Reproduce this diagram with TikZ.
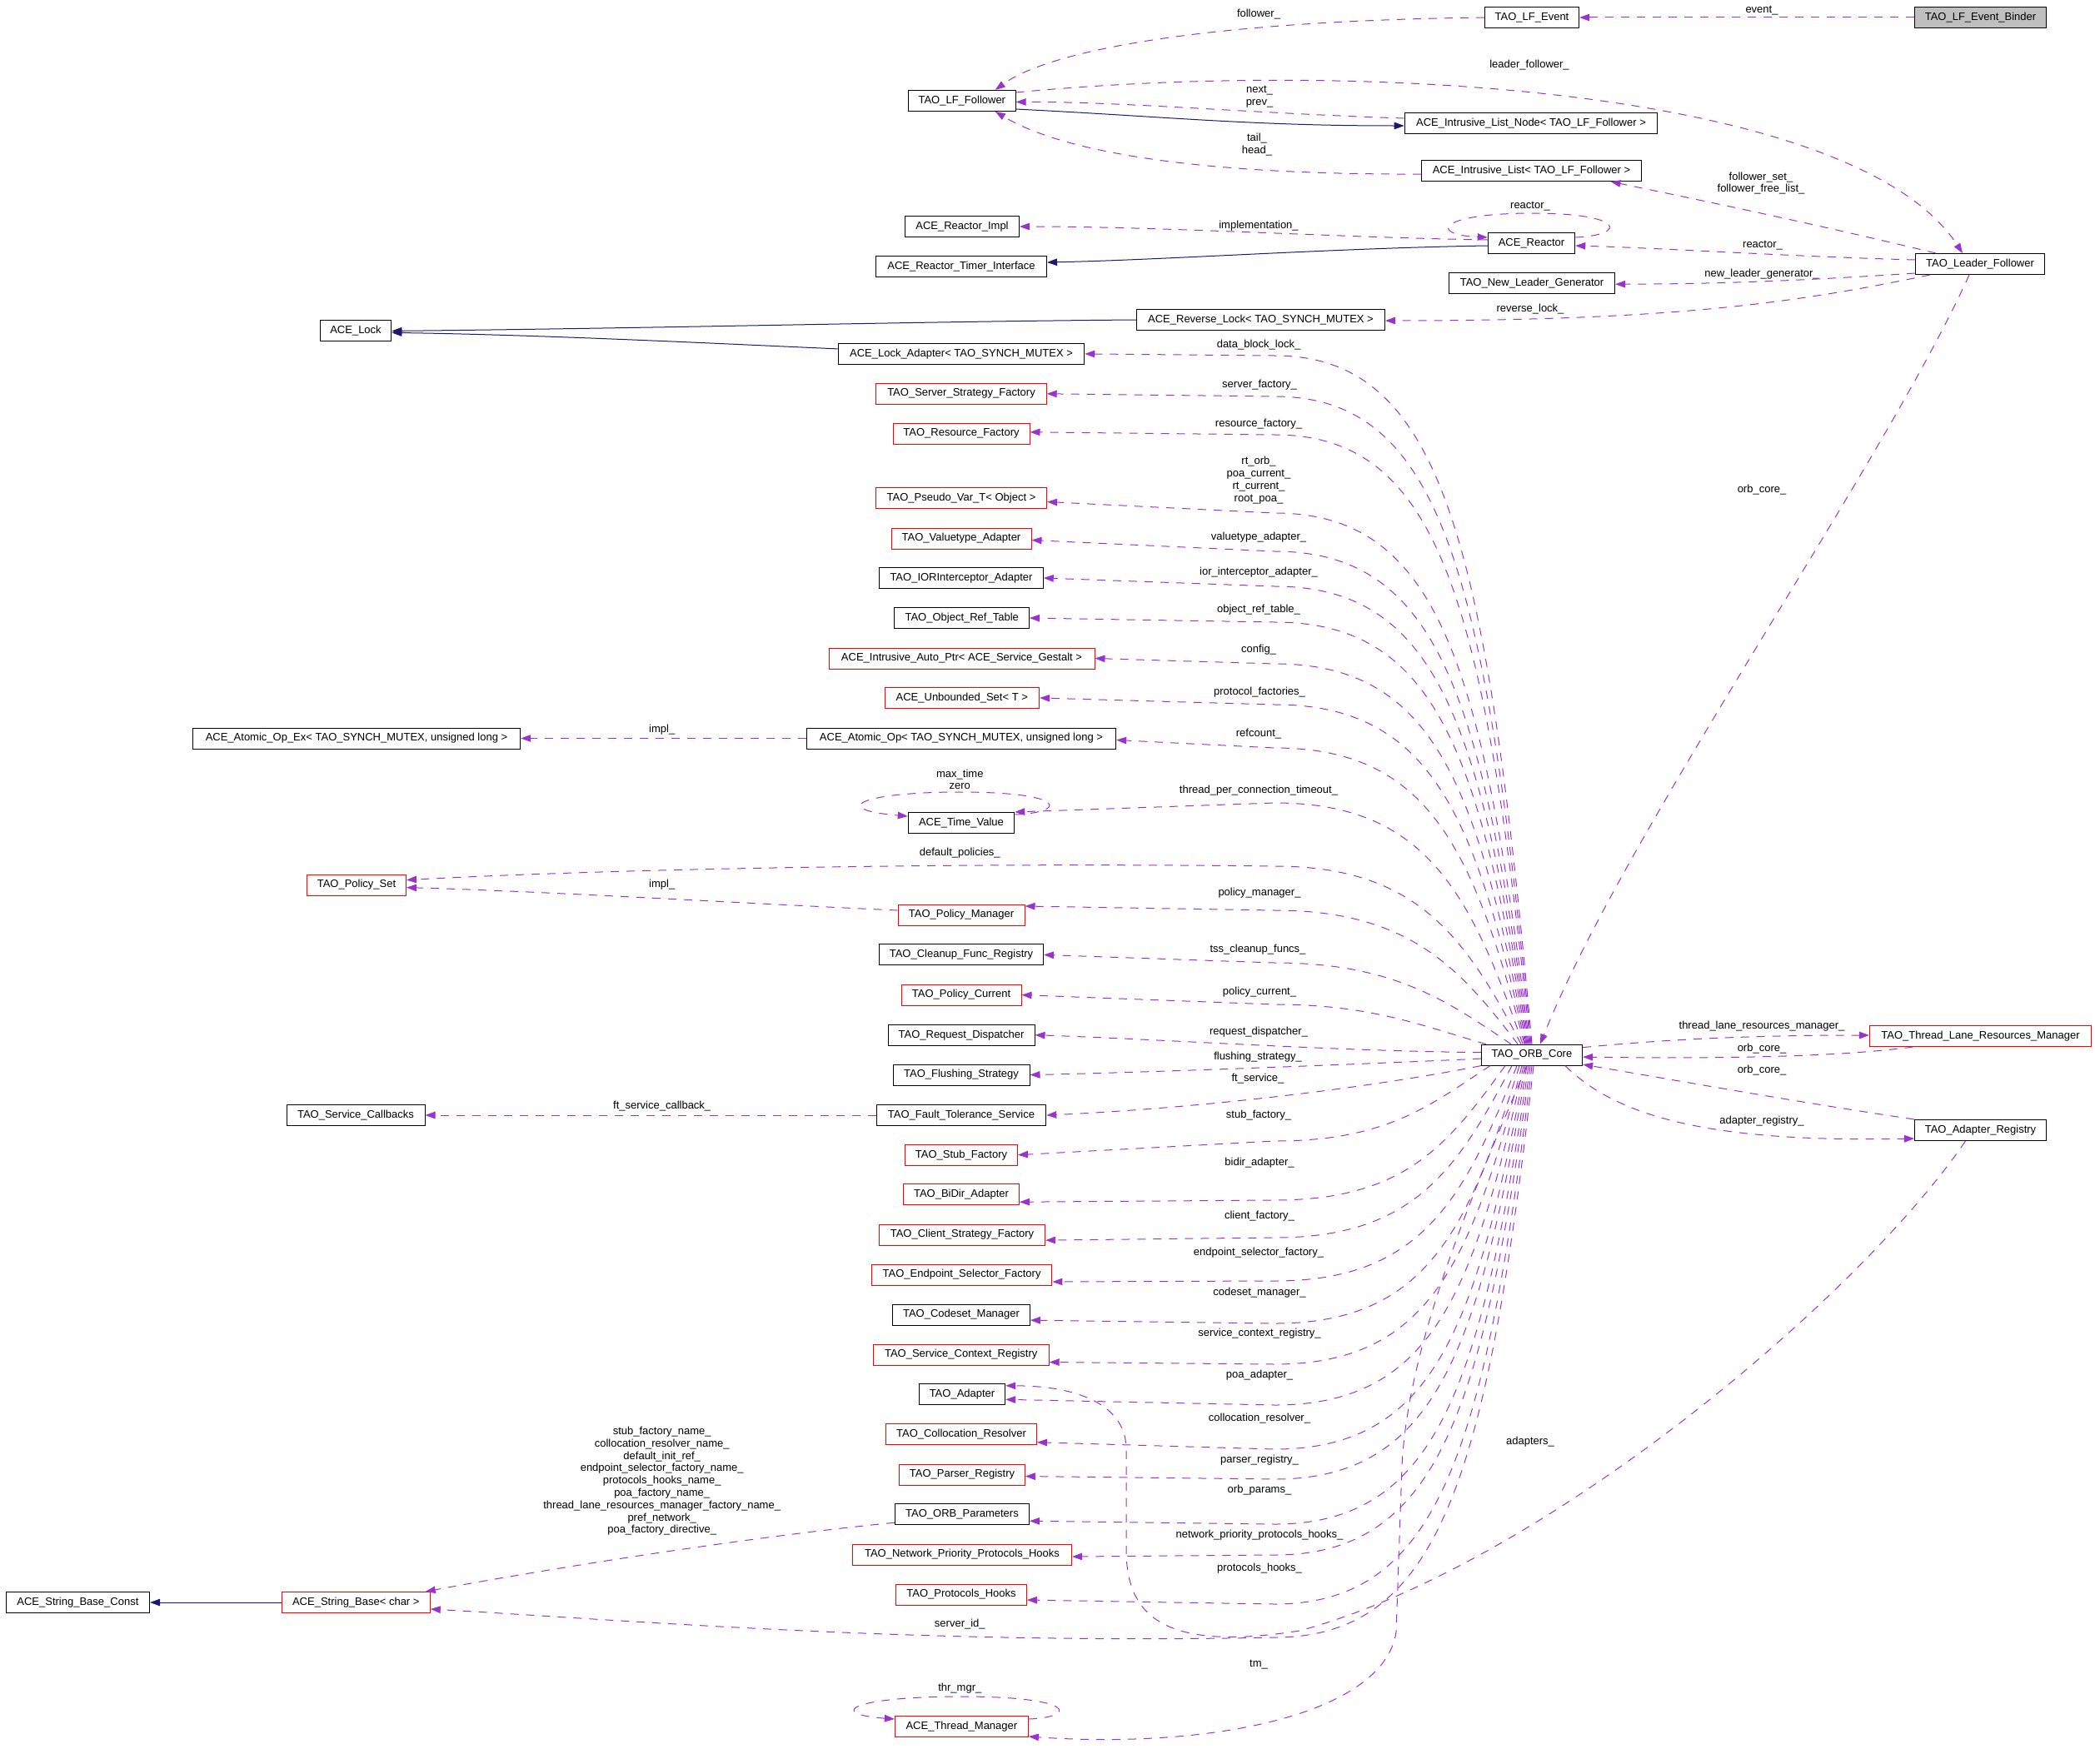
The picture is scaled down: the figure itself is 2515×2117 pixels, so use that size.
\documentclass[tikz,border=0pt]{standalone}
\usepackage{fontspec}
\setmainfont{Liberation Sans}
\usetikzlibrary{arrows.meta}
\definecolor{depc}{HTML}{9A32CD}
\definecolor{inhc}{HTML}{191970}
\definecolor{boxred}{HTML}{FF0000}
\definecolor{binderfill}{HTML}{BFBFBF}
\newcommand\dgfont{\fontsize{13pt}{14.8pt}\selectfont}
\tikzset{
 cls/.style={draw=black, line width=1pt, rectangle, minimum height=25pt, inner xsep=2pt, inner ysep=0pt, font=\dgfont},
 redcls/.style={cls, draw=boxred},
 lbl/.style={font=\dgfont, inner sep=0pt, align=center},
 depline/.style={draw=depc, line width=1pt, dash pattern=on 10pt off 9pt, -{Triangle[length=12pt,width=8.5pt]}},
 inhline/.style={draw=inhc, line width=1pt, -{Triangle[length=12pt,width=8.5pt]}},
}
% edge from top of ORB core: #1 x offset, #2 y of bend end, #3 tail
\newcommand\coreup[3]{%
 \pgfmathsetmacro\cuSx{1839+#1}%
 \pgfmathsetmacro\cuH{1253.6-#2}%
 \pgfmathsetmacro\cuK{\cuH/(\cuH+150)}%
 \pgfmathsetmacro\cuD{\cuSx-1530}%
 \pgfmathsetmacro\cuAx{\cuSx-(1-\cuK)*\cuD/3-45*\cuK}%
 \pgfmathsetmacro\cuAy{1253.6-(0.8*\cuK+(1-\cuK)/3)*\cuH}%
 \pgfmathsetmacro\cuBx{1530+220*\cuK+(1-\cuK)*\cuD/3}%
 \draw[depline] ([xshift=#1pt]orbcore.north) .. controls (\cuAx,\cuAy) and (\cuBx,#2) .. (1530,#2) #3;%
}
\newcommand\coredown[3]{%
 \pgfmathsetmacro\cuSx{1839+#1}%
 \pgfmathsetmacro\cuH{#2-1279.7}%
 \pgfmathsetmacro\cuK{\cuH/(\cuH+150)}%
 \pgfmathsetmacro\cuD{\cuSx-1530}%
 \pgfmathsetmacro\cuAx{\cuSx-(1-\cuK)*\cuD/3-45*\cuK}%
 \pgfmathsetmacro\cuAy{1279.7+(0.8*\cuK+(1-\cuK)/3)*\cuH}%
 \pgfmathsetmacro\cuBx{1530+220*\cuK+(1-\cuK)*\cuD/3}%
 \draw[depline] ([xshift=#1pt]orbcore.south) .. controls (\cuAx,\cuAy) and (\cuBx,#2) .. (1530,#2) #3;%
}
\begin{document}
\begin{tikzpicture}[x=1pt,y=-1pt]
\useasboundingbox (0,0) rectangle (2515,2117);
% ---------------- nodes
\node[cls, minimum width=157.8pt, fill=binderfill] (binder) at (2377.5,21) {TAO\_LF\_Event\_Binder};
\node[cls, minimum width=113.3pt] (lfevent) at (1839,21) {TAO\_LF\_Event};
\node[cls, minimum width=128.6pt] (lffollower) at (1154.8,121) {TAO\_LF\_Follower};
\node[cls, minimum width=303.7pt] (listnode) at (1838,148) {ACE\_Intrusive\_List\_Node< TAO\_LF\_Follower >};
\node[cls, minimum width=264pt] (ilist) at (1838.5,205) {ACE\_Intrusive\_List< TAO\_LF\_Follower >};
\node[cls, minimum width=137pt] (reactorimpl) at (1155,272) {ACE\_Reactor\_Impl};
\node[cls, minimum width=104.5pt] (reactor) at (1838.5,292) {ACE\_Reactor};
\node[cls, minimum width=205pt] (timer) at (1154,320) {ACE\_Reactor\_Timer\_Interface};
\node[cls, minimum width=155pt] (lfleader) at (2377,317) {TAO\_Leader\_Follower};
\node[cls, minimum width=199.3pt] (nlg) at (1839,339.7) {TAO\_New\_Leader\_Generator};
\node[cls, minimum width=298pt] (revlock) at (1513.5,384) {ACE\_Reverse\_Lock< TAO\_SYNCH\_MUTEX >};
\node[cls, minimum width=85.6pt] (acelock) at (427,397.4) {ACE\_Lock};
\node[cls, minimum width=295.5pt] (lockadapter) at (1154,424.9) {ACE\_Lock\_Adapter< TAO\_SYNCH\_MUTEX >};
\node[redcls, minimum width=204.4pt] (serverfac) at (1154,472.8) {TAO\_Server\_Strategy\_Factory};
\node[redcls, minimum width=164pt] (resfac) at (1154,520.8) {TAO\_Resource\_Factory};
\node[redcls, minimum width=205pt] (pseudovar) at (1154,598) {TAO\_Pseudo\_Var\_T< Object >};
\node[redcls, minimum width=168pt] (valuetype) at (1154,646.5) {TAO\_Valuetype\_Adapter};
\node[cls, minimum width=196.5pt] (iorint) at (1154,694) {TAO\_IORInterceptor\_Adapter};
\node[cls, minimum width=161.5pt] (objref) at (1154.7,742) {TAO\_Object\_Ref\_Table};
\node[redcls, minimum width=319pt] (autoptr) at (1154.5,790.5) {ACE\_Intrusive\_Auto\_Ptr< ACE\_Service\_Gestalt >};
\node[redcls, minimum width=185.6pt] (unbset) at (1154.8,838) {ACE\_Unbounded\_Set< T >};
\node[cls, minimum width=371.3pt] (atomicop) at (1154,886.5) {ACE\_Atomic\_Op< TAO\_SYNCH\_MUTEX, unsigned long >};
\node[cls, minimum width=393.4pt] (atomicopex) at (428,886.5) {ACE\_Atomic\_Op\_Ex< TAO\_SYNCH\_MUTEX, unsigned long >};
\node[cls, minimum width=127.5pt] (timevalue) at (1154,988) {ACE\_Time\_Value};
\node[redcls, minimum width=119pt] (policyset) at (428,1062.6) {TAO\_Policy\_Set};
\node[redcls, minimum width=152pt] (policymgr) at (1154,1098.5) {TAO\_Policy\_Manager};
\node[cls, minimum width=197pt] (cleanup) at (1154,1146.4) {TAO\_Cleanup\_Func\_Registry};
\node[redcls, minimum width=144pt] (policycur) at (1154,1194.6) {TAO\_Policy\_Current};
\node[cls, minimum width=176pt] (reqdisp) at (1154,1242.7) {TAO\_Request\_Dispatcher};
\node[cls, minimum width=121.3pt] (orbcore) at (1839,1266.6) {TAO\_ORB\_Core};
\node[redcls, minimum width=266.2pt] (tlrm) at (2377.5,1244) {TAO\_Thread\_Lane\_Resources\_Manager};
\node[cls, minimum width=164pt] (flushing) at (1154,1290.6) {TAO\_Flushing\_Strategy};
\node[cls, minimum width=203.6pt] (ftservice) at (1154,1339) {TAO\_Fault\_Tolerance\_Service};
\node[cls, minimum width=166pt] (svccallbacks) at (427,1339) {TAO\_Service\_Callbacks};
\node[cls, minimum width=157.8pt] (adapterreg) at (2377.5,1357) {TAO\_Adapter\_Registry};
\node[redcls, minimum width=135pt] (stubfac) at (1154,1386.7) {TAO\_Stub\_Factory};
\node[redcls, minimum width=139pt] (bidir) at (1154,1434.2) {TAO\_BiDir\_Adapter};
\node[redcls, minimum width=199.3pt] (clientfac) at (1155,1482.6) {TAO\_Client\_Strategy\_Factory};
\node[redcls, minimum width=216.7pt] (endpointfac) at (1154.6,1530.5) {TAO\_Endpoint\_Selector\_Factory};
\node[cls, minimum width=164.7pt] (codeset) at (1154,1578.6) {TAO\_Codeset\_Manager};
\node[redcls, minimum width=211pt] (svcctx) at (1153.7,1626.5) {TAO\_Service\_Context\_Registry};
\node[cls, minimum width=103.3pt] (adapter) at (1155,1674.3) {TAO\_Adapter};
\node[redcls, minimum width=181pt] (colloc) at (1154,1722.2) {TAO\_Collocation\_Resolver};
\node[redcls, minimum width=150.7pt] (parser) at (1155,1770.5) {TAO\_Parser\_Registry};
\node[cls, minimum width=161pt] (orbparams) at (1155,1818.2) {TAO\_ORB\_Parameters};
\node[redcls, minimum width=263pt] (netprio) at (1155,1866.5) {TAO\_Network\_Priority\_Protocols\_Hooks};
\node[redcls, minimum width=156.7pt] (protohooks) at (1154,1914.5) {TAO\_Protocols\_Hooks};
\node[cls, minimum width=172.4pt] (strbaseconst) at (93.4,1924) {ACE\_String\_Base\_Const};
\node[redcls, minimum width=178pt] (strbase) at (427.3,1924) {ACE\_String\_Base< char >};
\node[redcls, minimum width=160pt] (thrmgr) at (1154.4,2073) {ACE\_Thread\_Manager};
% ---------------- labels
\node[lbl] (Levent) at (2115,12.6) {event\_};
\node[lbl] (Lfollower) at (1511,16.7) {follower\_};
\node[lbl] (Lleaderf) at (1836,78) {leader\_follower\_};
\node[lbl] (Lnext) at (1512,116) {next\_\\prev\_};
\node[lbl] (Ltail) at (1509,173.6) {tail\_\\head\_};
\node[lbl] (Lfset) at (2114,220) {follower\_set\_\\follower\_free\_list\_};
\node[lbl] (Lreactorself) at (1837,247.7) {reactor\_};
\node[lbl] (Limpl) at (1511,271.5) {implementation\_};
\node[lbl] (Lreactor) at (2116,295) {reactor\_};
\node[lbl] (Lnlg) at (2115,328.7) {new\_leader\_generator\_};
\node[lbl] (Lrevlock) at (1837,370.6) {reverse\_lock\_};
\node[lbl] (Ldbl) at (1511,414.3) {data\_block\_lock\_};
\node[lbl] (Lserver) at (1512,462.5) {server\_factory\_};
\node[lbl] (Lres) at (1511,508.8) {resource\_factory\_};
\node[lbl] (Lrt) at (1511,576.7) {rt\_orb\_\\poa\_current\_\\rt\_current\_\\root\_poa\_};
\node[lbl] (Lvt) at (1511,644.8) {valuetype\_adapter\_};
\node[lbl] (Lior) at (1511,686.7) {ior\_interceptor\_adapter\_};
\node[lbl] (Lobj) at (1511,732.6) {object\_ref\_table\_};
\node[lbl] (Lconfig) at (1511,780.3) {config\_};
\node[lbl] (Lprot) at (1512,830.7) {protocol\_factories\_};
\node[lbl] (Lref) at (1511,880.7) {refcount\_};
\node[lbl] (Limpla) at (794.7,876.2) {impl\_};
\node[lbl] (Lmax) at (1152.3,935.9) {max\_time\\zero};
\node[lbl] (Ltpct) at (1511,948.7) {thread\_per\_connection\_timeout\_};
\node[lbl] (Ldef) at (1152.3,1024.4) {default\_policies\_};
\node[lbl] (Limplb) at (794.7,1062.6) {impl\_};
\node[lbl] (Lpm) at (1512,1072.5) {policy\_manager\_};
\node[lbl] (Ltss) at (1510,1140.5) {tss\_cleanup\_funcs\_};
\node[lbl] (Lpc) at (1512,1191) {policy\_current\_};
\node[lbl] (Lrd) at (1511,1239.6) {request\_dispatcher\_};
\node[lbl] (Ltlrm) at (2115,1232.4) {thread\_lane\_resources\_manager\_};
\node[lbl] (Loca) at (2115,1259) {orb\_core\_};
\node[lbl] (Lfs) at (1510,1268.9) {flushing\_strategy\_};
\node[lbl] (Locb) at (2115,1284.6) {orb\_core\_};
\node[lbl] (Lft) at (1510,1295.5) {ft\_service\_};
\node[lbl] (Lftcb) at (794.7,1328.3) {ft\_service\_callback\_};
\node[lbl] (Lstub) at (1511,1339.6) {stub\_factory\_};
\node[lbl] (Lar) at (2115,1346.3) {adapter\_registry\_};
\node[lbl] (Lbidir) at (1512,1396.3) {bidir\_adapter\_};
\node[lbl] (Lcf) at (1512,1459.7) {client\_factory\_};
\node[lbl] (Lesf) at (1511,1503.7) {endpoint\_selector\_factory\_};
\node[lbl] (Lcm) at (1512,1551.8) {codeset\_manager\_};
\node[lbl] (Lscr) at (1512,1600.8) {service\_context\_registry\_};
\node[lbl] (Lpoa) at (1512,1651.6) {poa\_adapter\_};
\node[lbl] (Lcr) at (1512,1702.9) {collocation\_resolver\_};
\node[lbl] (Ladapters) at (1837,1731.2) {adapters\_};
\node[lbl] (Lpr) at (1512,1752.8) {parser\_registry\_};
\node[lbl] (Lnames) at (794.7,1778.3) {stub\_factory\_name\_\\collocation\_resolver\_name\_\\default\_init\_ref\_\\endpoint\_selector\_factory\_name\_\\protocols\_hooks\_name\_\\poa\_factory\_name\_\\thread\_lane\_resources\_manager\_factory\_name\_\\pref\_network\_\\poa\_factory\_directive\_};
\node[lbl] (Lop) at (1512,1788.8) {orb\_params\_};
\node[lbl] (Lnpph) at (1512,1843.6) {network\_priority\_protocols\_hooks\_};
\node[lbl] (Lph) at (1512,1882.7) {protocols\_hooks\_};
\node[lbl] (Lsid) at (1152.3,1950.2) {server\_id\_};
\node[lbl] (Ltm) at (1511,1998.7) {tm\_};
\node[lbl] (Lthr) at (1152.3,2027) {thr\_mgr\_};
\node[lbl] (Locc) at (2115,587.6) {orb\_core\_};
% ---------------- top area edges
\draw[depline] (binder.west) -- (lfevent.east);
\draw[depline] (lfevent.west) .. controls (1450,25) and (1260,60) .. ([xshift=40pt]lffollower.north);
\draw[depline] ([yshift=10pt]lffollower.east) .. controls (1650,70) and (2230,110) .. ([xshift=-21pt]lfleader.north);
\draw[depline] ([yshift=6pt]listnode.west) .. controls (1500,136) and (1350,122) .. ([yshift=-1.5pt]lffollower.east);
\draw[inhline] ([yshift=-10pt]lffollower.east) .. controls (1400,140) and (1500,151) .. ([yshift=-3pt]listnode.west);
\draw[depline] ([yshift=-4pt]ilist.west) .. controls (1450,210) and (1280,185) .. ([xshift=40pt]lffollower.south);
\draw[depline] ([xshift=-53pt]lfleader.north) .. controls (2150,262) and (2000,232) .. ([xshift=95pt]ilist.south);
\draw[depline] ([yshift=7pt]reactor.east) .. controls (1955,282) and (1950,256) .. (1840,256) .. controls (1725,256) and (1715,282) .. ([yshift=7pt]reactor.west);
\draw[depline] ([yshift=4pt]reactor.west) .. controls (1600,285) and (1400,272) .. (reactorimpl.east);
\draw[inhline] ([yshift=-3pt]reactor.west) .. controls (1600,298) and (1400,312) .. ([yshift=5pt]timer.east);
\draw[depline] ([yshift=5pt]lfleader.west) .. controls (2150,308) and (2000,298) .. ([yshift=-3pt]reactor.east);
\draw[depline] ([yshift=-11pt]lfleader.west) .. controls (2150,338) and (2050,341) .. ([yshift=-1.5pt]nlg.east);
\draw[depline] ([xshift=-60pt]lfleader.south) .. controls (2150,365) and (2000,385) .. ([yshift=-1pt]revlock.east);
\draw[inhline] (revlock.west) .. controls (1100,386) and (800,394) .. (acelock.east);
\draw[inhline] ([yshift=6pt]lockadapter.west) .. controls (850,412) and (650,402) .. ([yshift=-2pt]acelock.east);
\draw[depline] ([xshift=-13pt]lfleader.south) .. controls (2260,560) and (1950,1000) .. ([xshift=10pt]orbcore.north);
% ---------------- left side edges
\draw[depline] (atomicop.west) -- (atomicopex.east);
\draw[depline] ([yshift=10pt]timevalue.east) .. controls (1280,976) and (1285,951) .. (1152,951) .. controls (1030,951) and (995,972) .. ([yshift=8pt]timevalue.west);
\draw[depline] ([yshift=5.5pt]policymgr.west) .. controls (900,1085) and (650,1070) .. ([yshift=-3pt]policyset.east);
\draw[depline] (ftservice.west) -- (svccallbacks.east);
\draw[depline] ([yshift=-10pt]orbparams.west) .. controls (900,1845) and (650,1885) .. ([xshift=-6pt]strbase.north east);
\draw[inhline] (strbase.west) -- (strbaseconst.east);
\draw[depline] ([yshift=9pt]thrmgr.east) .. controls (1292,2062) and (1295,2037) .. (1154,2037) .. controls (1020,2037) and (992,2058) .. ([yshift=9pt]thrmgr.west);
% ---------------- ORB core upward edges
\coreup{0}{427}{-- (lockadapter.east)}
\coreup{-1}{476}{-- (serverfac.east)}
\coreup{-2}{522}{-- ([yshift=2pt]resfac.east)}
\coreup{-3}{616}{-- ([yshift=-4.5pt]pseudovar.east)}
\coreup{-4}{662}{-- ([yshift=-2pt]valuetype.east)}
\coreup{-5}{704}{-- (iorint.east)}
\coreup{-6}{747}{-- (objref.east)}
\coreup{-7}{797}{-- (autoptr.east)}
\coreup{-8}{846}{-- (unbset.east)}
\coreup{-9}{898}{-- ([yshift=-2pt]atomicop.east)}
\coreup{-11}{964}{-- ([yshift=13pt]timevalue.east)}
\coreup{-13}{1040}{.. controls (1100,1035) and (700,1045) .. ([yshift=6pt]policyset.east)}
\coreup{-17}{1093}{-- ([yshift=10.5pt]policymgr.east)}
\coreup{-25}{1156}{-- (cleanup.east)}
\coreup{-55}{1206}{-- (policycur.east)}
% ---------------- ORB core side edges
\draw[depline] ([yshift=3pt]orbcore.west) .. controls (1600,1262) and (1400,1248) .. (reqdisp.east);
\draw[depline] ([yshift=-4.5pt]orbcore.west) .. controls (1650,1277) and (1400,1287) .. (flushing.east);
\draw[depline] (orbcore.south west) .. controls (1650,1305) and (1450,1330) .. (ftservice.east);
% ---------------- ORB core downward edges
\coredown{-50}{1370}{-- (stubfac.east)}
\coredown{-32}{1441}{-- ([yshift=-9pt]bidir.east)}
\coredown{-24}{1486}{-- ([yshift=-6.5pt]clientfac.east)}
\coredown{-18}{1538}{-- ([yshift=-8.5pt]endpointfac.east)}
\coredown{-15}{1589}{-- ([yshift=-6.5pt]codeset.east)}
\coredown{-12}{1638}{-- ([yshift=-9pt]svcctx.east)}
\coredown{-10}{1687}{-- ([yshift=-6pt]adapter.east)}
\coredown{-8}{1740}{-- ([yshift=-9.5pt]colloc.east)}
\coredown{-6}{1776}{-- ([yshift=-2pt]parser.east)}
\coredown{-4}{1830}{-- ([yshift=-8pt]orbparams.east)}
\coredown{-2}{1867}{-- ([yshift=-2.5pt]netprio.east)}
\coredown{0}{1926}{-- ([yshift=-6.5pt]protohooks.east)}
\coredown{2}{1966}{.. controls (1100,1975) and (750,1945) .. ([yshift=-8pt]strbase.east)}
\draw[depline] ([xshift=-6pt]orbcore.south) .. controls (1760,1450) and (1690,1620) .. (1683,1760) -- (1676,1960) .. controls (1660,2060) and (1450,2100) .. ([yshift=-12pt]thrmgr.east);
% ---------------- right side edges
\draw[depline] ([yshift=9pt]orbcore.east) .. controls (2000,1248) and (2100,1243) .. ([yshift=1pt]tlrm.west);
\draw[depline] ([xshift=-81pt]tlrm.south) .. controls (2200,1270) and (2050,1271) .. ([yshift=-2.5pt]orbcore.east);
\draw[depline] (adapterreg.north west) .. controls (2150,1322) and (2000,1295) .. ([yshift=-11.5pt]orbcore.east);
\draw[depline] ([xshift=40pt]orbcore.south) .. controls (1940,1340) and (2050,1372) .. ([yshift=-10pt]adapterreg.west);
\draw[depline] ([xshift=-18pt]adapterreg.south) .. controls (2230,1560) and (1850,1880) .. (1560,1958) .. controls (1390,1985) and (1352,1935) .. (1352,1860) -- (1352,1740) .. controls (1352,1690) and (1300,1664) .. ([yshift=10.5pt]adapter.east);
\end{tikzpicture}
\end{document}
